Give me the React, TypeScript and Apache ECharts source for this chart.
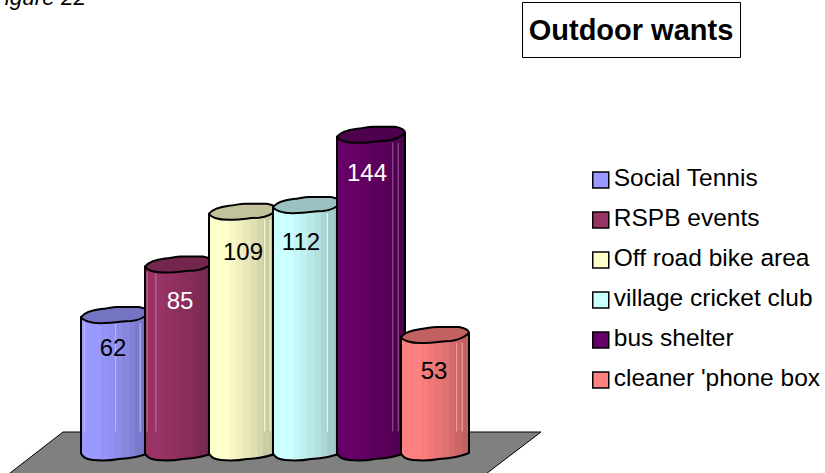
import React, { useEffect, useRef } from "react";
import * as echarts from "echarts";

const categories = ["Social Tennis", "RSPB events", "Off road bike area", "village cricket club", "bus shelter", "cleaner 'phone box"];
const values = [62, 85, 109, 112, 144, 53];
const colors = ["#9999FF", "#993366", "#FFFFCC", "#CCFFFF", "#660066", "#FF8080"];
const labelColors = ["#000", "#fff", "#000", "#000", "#fff", "#000"];

// drawing style only: label nudges and the highlight streaks of each cylinder
const labelDx = [-2, 1, 0, -6, -4, -1];
const labelDy = [30, 33.5, 38, 34, 36, 34];
const streaks = [[0.05, 0.51, 0.87], [0.03, 0.16], [0.82, 0.9], [0.8], [0.82, 0.9], [0.82, 0.9]];

const CYL_W = 68;

function shade(hex: string, f: number) {
  const n = parseInt(hex.slice(1), 16);
  const ch = (s: number) => Math.round(((n >> s) & 255) * f);
  return `rgb(${ch(16)},${ch(8)},${ch(0)})`;
}

function tint(hex: string, a: number) {
  const n = parseInt(hex.slice(1), 16);
  const ch = (s: number) => Math.round(((n >> s) & 255) + (255 - ((n >> s) & 255)) * a);
  return `rgb(${ch(16)},${ch(8)},${ch(0)})`;
}

function makeRender(i: number) {
  return (_p: any, api: any) => {
    const pt = api.coord([api.value(0), api.value(1)]);
    const base = api.coord([api.value(0), 0]);
    const L = pt[0] - CYL_W / 2;
    const T = pt[1];
    const B = base[1];
    const W = CYL_W;
    const R = L + W;
    const c = colors[i];
    const steps = [1, 1, 1, 0.97, 0.94, 0.91, 0.88, 0.84, 0.8, 0.76];
    const stops: any[] = [];
    steps.forEach((f, k) => {
      stops.push({ offset: k / steps.length, color: shade(c, f) });
      stops.push({ offset: (k + 1) / steps.length, color: shade(c, f) });
    });
    const body =
      `M${L} ${T}L${L} ${B}C${L + 2} ${B + 4} ${L + 5} ${B + 6} ${L + 12} ${B + 6.5}` +
      `C${L + 22} ${B + 7.5} ${L + 30} ${B + 7} ${L + 38} ${B + 5.5}` +
      `C${L + 48} ${B + 5} ${L + 60} ${B + 3} ${R} ${B - 0.5}L${R} ${T - 3}Z`;
    const top =
      `M${L} ${T}C${L + 4} ${T - 5} ${L + 12} ${T - 7} ${L + 20} ${T - 8}` +
      `C${L + 27} ${T - 8.5} ${L + 30} ${T - 10} ${L + 36} ${T - 10}` +
      `L${L + 58} ${T - 10}C${L + 63} ${T - 9} ${R} ${T - 7} ${R} ${T - 4}` +
      `C${L + 64} ${T} ${L + 58} ${T + 3} ${L + 50} ${T + 4}` +
      `C${L + 40} ${T + 4} ${L + 34} ${T + 6} ${L + 24} ${T + 6}` +
      `C${L + 14} ${T + 6.5} ${L + 3} ${T + 5} ${L} ${T}Z`;
    const children: any[] = [
      {
        type: "path",
        shape: { pathData: body },
        style: {
          fill: new echarts.graphic.LinearGradient(0, 0, 1, 0, stops),
          stroke: "#000",
          lineWidth: 2,
          lineJoin: "round",
        },
      },
    ];
    streaks[i].forEach((fr) => {
      children.push({
        type: "line",
        shape: { x1: L + W * fr, y1: T + 6, x2: L + W * fr, y2: B - 22 },
        style: { stroke: tint(c, 0.35), lineWidth: 1 },
      });
    });
    children.push({
      type: "path",
      shape: { pathData: top },
      style: { fill: shade(c, 0.76), stroke: "#000", lineWidth: 2, lineJoin: "round" },
    });
    children.push({
      type: "text",
      style: {
        x: pt[0] + labelDx[i],
        y: T + labelDy[i],
        text: String(api.value(1)),
        fill: labelColors[i],
        font: '24px "Liberation Sans", Arial, sans-serif',
        align: "center",
        verticalAlign: "middle",
      },
    });
    return { type: "group", children };
  };
}

export default function App() {
  const ref = useRef<HTMLDivElement>(null);
  useEffect(() => {
    document.body.style.margin = "0";
    document.body.style.background = "#fff";
    document.body.style.overflow = "hidden";
    const chart = echarts.init(ref.current!, null, { renderer: "svg" });
    chart.setOption({
      animation: false,
      backgroundColor: "#fff",
      grid: { left: 83, width: 384, top: 123.5, bottom: 19.5 },
      xAxis: { type: "category", data: categories, show: false },
      yAxis: { type: "value", min: 0, max: 150, show: false },
      legend: {
        orient: "vertical",
        left: 587,
        top: 158,
        data: categories,
        icon: "rect",
        itemWidth: 16,
        itemHeight: 16,
        itemGap: 6,
        selectedMode: false,
        itemStyle: { borderColor: "#000", borderWidth: 1.5 },
        formatter: "{t|{name}}",
        textStyle: {
          fontFamily: '"Liberation Sans", Arial, sans-serif',
          fontSize: 24.5,
          color: "#000",
          rich: {
            t: {
              fontFamily: '"Liberation Sans", Arial, sans-serif',
              fontSize: 24.5,
              color: "#000",
              height: 28,
              lineHeight: 28,
              padding: [0, 0, 6, 0],
            },
          },
        },
      },
      graphic: [
        {
          type: "polygon",
          z: -1,
          shape: { points: [[63, 432], [541, 432], [478, 480], [1, 480]] },
          style: { fill: "#808080", stroke: "#000", lineWidth: 1 },
        },
        {
          type: "text",
          x: -9,
          y: -14.5,
          style: {
            text: "Figure 22",
            font: 'italic 22.5px "Liberation Sans", Arial, sans-serif',
            fill: "#000",
          },
        },
        {
          type: "rect",
          shape: { x: 522.5, y: 2.5, width: 218, height: 55 },
          style: { fill: "#fff", stroke: "#000", lineWidth: 1 },
        },
        {
          type: "text",
          x: 631,
          y: 30,
          style: {
            text: "Outdoor wants",
            font: 'bold 29px "Liberation Sans", Arial, sans-serif',
            fill: "#000",
            align: "center",
            verticalAlign: "middle",
          },
        },
      ],
      series: categories.map((name, i) => ({
        type: "custom",
        name,
        itemStyle: { color: colors[i] },
        encode: { x: 0, y: 1 },
        data: [[name, values[i]]],
        renderItem: makeRender(i),
        clip: false,
      })),
    });
    return () => chart.dispose();
  }, []);
  return <div ref={ref} style={{ width: 825, height: 473 }} />;
}
